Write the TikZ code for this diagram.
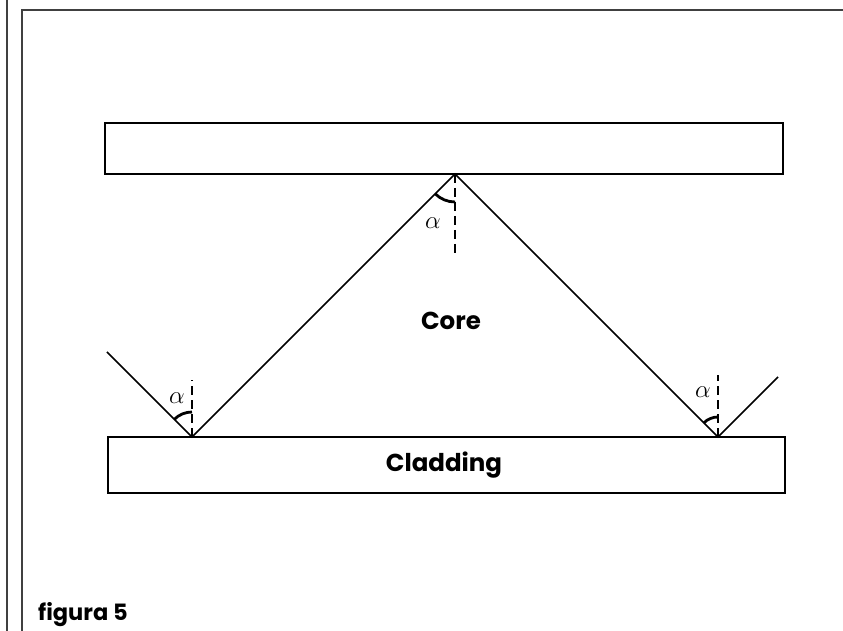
\documentclass[tikz,border=0pt]{standalone}
\usepackage{fontspec}
\setmainfont{Poppins}
\begin{document}
\begin{tikzpicture}[x=1pt,y=1pt,
  framel/.style={line width=1.8pt, black!75},
  bar/.style={draw, line width=1.8pt, inner sep=0pt, outer sep=0pt},
  ray/.style={line width=1.5pt, line join=miter},
  normalline/.style={line width=1.6pt, dash pattern=on 9pt off 5pt},
  anglearc/.style={line width=2.8pt},
  lbl/.style={font=\fontsize{24.5}{28}\selectfont\bfseries},
  albl/.style={font=\fontsize{27}{30}\selectfont, inner sep=0pt}]
\useasboundingbox (0,0) rectangle (843,631);
% frame
\draw[framel] (7,0) -- (7,631);
\draw[framel] (22,0) -- (22,621) -- (843,621);
% bars
\node[bar, anchor=south west, minimum width=678pt, minimum height=51pt] (top) at (105,457) {};
\node[bar, anchor=south west, minimum width=677pt, minimum height=56pt] (clad) at (108,138) {};
\node[lbl] (cladtext) at (444,166) {Cladding};
\node[lbl] (core) at (451,310) {Core};
% ray
\coordinate (s) at (107,279);
\coordinate (p1) at (192,194);
\coordinate (apex) at (455,457);
\coordinate (p2) at (718,194);
\coordinate (e) at (778,254);
\draw[ray] (s) -- (p1) -- (apex) -- (p2) -- (e);
% normals
\coordinate (n0) at (455,376);
\coordinate (n1) at (192,251);
\coordinate (n2) at (718,256);
\draw[normalline] (apex) -- (n0);
\draw[normalline] (p1) -- (n1);
\draw[normalline] (p2) -- (n2);
% angle arcs
\draw[anglearc] (apex) ++(225:28) arc[start angle=225, end angle=270, radius=28];
\draw[anglearc] (p1) ++(135:25) arc[start angle=135, end angle=90, radius=25];
\draw[anglearc] (p2) ++(135:20) arc[start angle=135, end angle=90, radius=20];
% alpha labels
\node[albl] (a0) at (433,408) {$\alpha$};
\node[albl] (a1) at (177,233) {$\alpha$};
\node[albl] (a2) at (703,239) {$\alpha$};
% caption
\node[font=\fontsize{22.5}{26}\selectfont\bfseries, anchor=base west, inner sep=0pt] (cap) at (38,10) {figura 5};
\end{tikzpicture}
\end{document}
